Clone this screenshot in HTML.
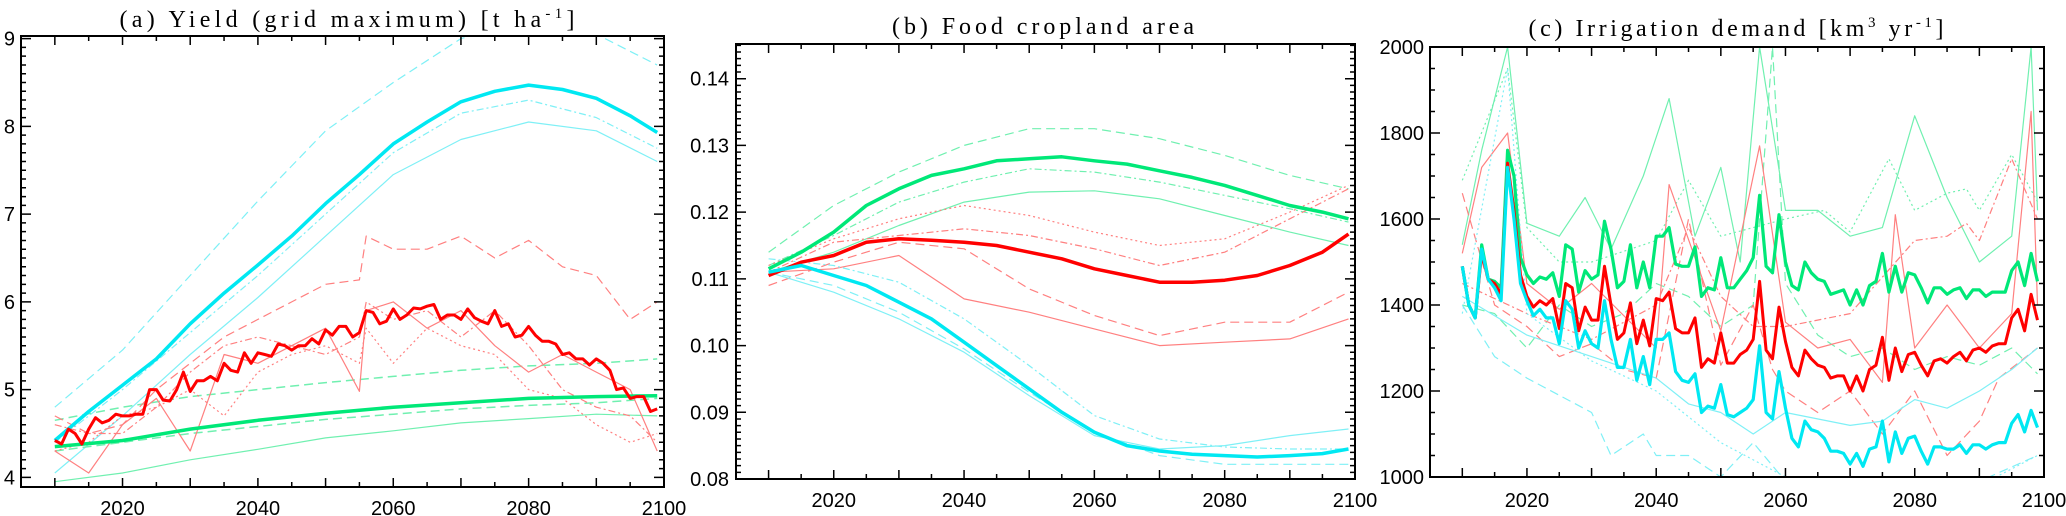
<!DOCTYPE html>
<html><head><meta charset="utf-8"><style>
html,body{margin:0;padding:0;background:#fff;}
svg{display:block;}
text{font-family:"Liberation Sans",sans-serif;fill:#000;}
.title{font-family:"Liberation Serif",serif;font-size:24px;}
</style></head>
<body>
<svg id="chart" width="2066" height="516" viewBox="0 0 2066 516" xmlns="http://www.w3.org/2000/svg"></svg>
<script>
// ---------- Panel (a) data: Yield ----------
const yearsA5 = [2010,2015,2020,2025,2030,2035,2040,2045,2050,2055,2060,2065,2070,2075,2080,2085,2090,2095,2099];
const yieldCyanMean = [4.42,4.75,5.05,5.35,5.75,6.1,6.42,6.75,7.12,7.45,7.8,8.05,8.28,8.4,8.47,8.42,8.32,8.12,7.93];
const yearsA10 = [2010,2020,2030,2040,2050,2060,2070,2080,2090,2099];
const yieldCyanHigh = [4.8,5.45,6.3,7.15,7.95,8.5,9.0,9.2,9.05,8.7];
const yieldCyanLow = [4.05,4.7,5.4,6.05,6.75,7.45,7.85,8.05,7.95,7.6];
const yieldCyanMid = [4.4,5.0,5.65,6.3,7.0,7.7,8.15,8.3,8.1,7.75];
const yearsAnnual = Array.from({length:90},(_,i)=>2010+i);
const yieldRedMean = [4.42,4.38,4.55,4.5,4.38,4.55,4.68,4.62,4.65,4.72,4.7,4.7,4.72,4.72,5.0,5.0,4.88,4.87,5.0,5.2,4.98,5.1,5.1,5.15,5.1,5.3,5.22,5.2,5.42,5.3,5.42,5.4,5.38,5.52,5.5,5.45,5.5,5.5,5.58,5.52,5.68,5.62,5.72,5.72,5.6,5.65,5.9,5.88,5.75,5.78,5.92,5.8,5.85,5.93,5.92,5.95,5.97,5.8,5.85,5.85,5.8,5.92,5.82,5.78,5.75,5.9,5.72,5.75,5.6,5.62,5.72,5.62,5.55,5.55,5.52,5.4,5.42,5.35,5.35,5.28,5.35,5.3,5.22,5.0,5.02,4.9,4.92,4.92,4.75,4.78];
const yearsA5b = [2010,2015,2020,2025,2030,2035,2040,2045,2050,2055,2056,2060,2065,2070,2075,2080,2085,2090,2095,2099];
const yieldRedHigh = [4.7,4.5,4.6,5.0,5.3,5.6,5.8,6.0,6.2,6.25,6.75,6.6,6.6,6.75,6.5,6.7,6.4,6.3,5.8,6.0];
const yieldRedSolid = [4.3,4.05,4.6,4.9,4.3,5.4,5.3,5.5,5.7,4.98,5.9,6.0,5.7,5.9,5.5,5.2,5.4,5.2,5.0,4.3];
const yieldRedDotted = [4.3,4.4,4.7,4.8,5.0,4.7,5.2,5.4,5.5,5.3,5.7,5.3,5.7,5.5,5.4,5.0,4.9,4.6,4.4,4.5];
const yieldRedDashDot = [4.6,4.5,4.5,4.8,5.2,5.5,5.6,5.5,5.4,5.6,6.0,5.8,5.9,5.6,5.9,5.5,5.0,4.8,4.7,4.4];
const yieldGreenMean = [4.35,4.42,4.55,4.65,4.73,4.8,4.85,4.9,4.92,4.93];
const yieldGreenHigh = [4.65,4.8,4.92,5.0,5.08,5.15,5.22,5.27,5.3,5.35];
const yieldGreenMid = [4.3,4.4,4.5,4.58,4.66,4.72,4.78,4.82,4.85,4.9];
const yieldGreenLow = [3.95,4.05,4.2,4.32,4.45,4.53,4.62,4.67,4.72,4.7];

// ---------- Panel (b) data: cropland area ----------
const areaGreenMean = [0.1115,0.114,0.117,0.121,0.1235,0.1255,0.1265,0.1277,0.128,0.1283,0.1277,0.1272,0.1262,0.1252,0.124,0.1225,0.121,0.12,0.119];
const areaRedMean = [0.1105,0.1125,0.1135,0.1155,0.116,0.1158,0.1155,0.115,0.114,0.113,0.1115,0.1105,0.1095,0.1095,0.1098,0.1105,0.112,0.114,0.1167];
const areaCyanMean = [0.111,0.112,0.1105,0.109,0.1065,0.104,0.1005,0.097,0.0935,0.09,0.087,0.085,0.0842,0.0837,0.0835,0.0833,0.0835,0.0838,0.0845];
const areaGreenHigh = [0.114,0.121,0.126,0.13,0.1325,0.1325,0.131,0.1285,0.1255,0.1235];
const areaGreenMid = [0.112,0.1165,0.1215,0.1245,0.1265,0.126,0.1245,0.1225,0.1205,0.1185];
const areaGreenLow = [0.111,0.114,0.118,0.1215,0.123,0.1232,0.122,0.1195,0.117,0.115];
const areaRedSolid = [0.111,0.1115,0.1135,0.107,0.105,0.1025,0.1,0.1005,0.101,0.104];
const areaRedDashed = [0.109,0.1125,0.1155,0.1145,0.1085,0.1045,0.1015,0.1035,0.1035,0.108];
const areaRedDotted = [0.112,0.116,0.119,0.121,0.1195,0.117,0.115,0.116,0.12,0.124];
const areaRedDashDot = [0.111,0.1155,0.1165,0.1175,0.1165,0.1145,0.112,0.114,0.119,0.1235];
const areaCyanHigh = [0.113,0.112,0.1095,0.104,0.097,0.0895,0.086,0.0848,0.0845,0.0845];
const areaCyanLow = [0.111,0.108,0.104,0.099,0.0925,0.0865,0.0845,0.085,0.0865,0.0875];
const areaCyanDashed = [0.111,0.109,0.105,0.0995,0.093,0.087,0.0835,0.0822,0.0822,0.0822];

// ---------- Panel (c) data: irrigation ----------
const irrGreenMean = [1490,1400,1370,1540,1460,1455,1440,1760,1700,1510,1470,1450,1465,1460,1475,1420,1540,1530,1430,1480,1460,1470,1595,1530,1440,1455,1540,1440,1500,1440,1560,1560,1580,1495,1490,1490,1535,1420,1440,1435,1510,1440,1440,1460,1480,1510,1655,1490,1475,1610,1500,1445,1435,1500,1475,1460,1455,1425,1430,1435,1400,1435,1400,1445,1455,1520,1430,1490,1430,1475,1470,1440,1405,1440,1440,1425,1435,1440,1415,1435,1435,1420,1430,1430,1430,1480,1500,1445,1520,1455];
const irrRedMean = [1490,1400,1370,1520,1460,1450,1425,1730,1620,1470,1420,1395,1410,1400,1415,1345,1450,1440,1340,1395,1365,1365,1490,1400,1320,1335,1405,1310,1365,1305,1415,1410,1430,1345,1335,1335,1370,1255,1275,1265,1335,1265,1265,1285,1295,1320,1455,1295,1275,1395,1315,1255,1235,1295,1275,1260,1255,1230,1235,1235,1200,1235,1200,1250,1260,1325,1225,1300,1245,1285,1290,1260,1235,1270,1275,1265,1280,1290,1270,1295,1300,1290,1305,1310,1310,1370,1390,1340,1425,1365];
const irrCyanMean = [1490,1400,1370,1530,1460,1440,1410,1720,1600,1450,1410,1375,1390,1370,1370,1310,1410,1390,1300,1340,1310,1300,1410,1320,1255,1255,1320,1225,1280,1215,1320,1320,1335,1245,1225,1220,1240,1150,1165,1160,1215,1145,1140,1150,1160,1180,1305,1150,1135,1245,1160,1090,1070,1130,1110,1105,1090,1060,1060,1055,1030,1055,1025,1065,1070,1130,1035,1105,1055,1090,1095,1060,1030,1070,1070,1065,1065,1075,1055,1075,1075,1065,1075,1080,1080,1125,1145,1105,1155,1115];
const yrsGS = [2010,2013,2017,2020,2025,2029,2033,2038,2042,2046,2050,2053,2056,2060,2065,2070,2075,2080,2085,2090,2095,2098,2099];
const irrGreenSolid = [1540,1760,2000,1590,1560,1650,1530,1700,1880,1560,1720,1500,2000,1620,1620,1560,1580,1840,1650,1500,1560,2000,1620];
const yrsGD = [2010,2015,2020,2025,2030,2035,2040,2045,2050,2055,2058,2060,2065,2070,2075,2080,2085,2090,2095,2099];
const irrGreenDashed = [1400,1380,1300,1400,1350,1380,1450,1420,1350,1400,2000,1450,1330,1280,1300,1250,1280,1260,1300,1240];
const yrsGT = [2010,2017,2020,2025,2030,2040,2045,2050,2060,2066,2070,2076,2080,2085,2088,2090,2095,2099];
const irrGreenDotted = [1690,1950,1580,1500,1500,1550,1690,1560,1600,1620,1570,1740,1620,1660,1670,1620,1750,1640];
const yrsRS = [2010,2013,2017,2020,2025,2030,2040,2042,2050,2056,2060,2065,2070,2075,2077,2080,2085,2090,2095,2098,2099];
const irrRedSolid = [1520,1720,1800,1450,1390,1450,1300,1680,1340,1770,1360,1300,1320,1220,1610,1300,1400,1300,1380,1850,1400];
const yrsRD = [2010,2015,2020,2025,2030,2035,2040,2045,2050,2055,2058,2060,2065,2070,2075,2080,2085,2090,2093,2099];
const irrRedDashed = [1660,1400,1350,1280,1310,1250,1230,1600,1260,1400,1250,1200,1150,1200,1100,1200,1050,1130,1230,1300];
const yrsRT = [2010,2020,2030,2040,2045,2050,2055,2060,2070,2080,2085,2088,2090,2095,2099];
const irrRedDotted = [1450,1380,1320,1400,1580,1420,1350,1350,1380,1550,1560,1590,1550,1740,1600];
const yrsCD = [2010,2015,2020,2025,2030,2033,2038,2040,2045,2050,2055,2060,2065,2070,2080,2090,2099];
const irrCyanDashed = [1400,1280,1230,1190,1150,1050,1100,1050,1050,1000,1080,990,980,1000,970,990,1050];
const yrsCS = [2010,2020,2030,2040,2045,2050,2055,2060,2070,2075,2080,2085,2090,2095,2099];
const irrCyanSolid = [1420,1330,1280,1230,1170,1150,1100,1150,1120,1130,1180,1160,1200,1250,1300];
const yrsCT = [2010,2017,2020,2030,2040,2050,2060,2070,2080,2090,2099];
const irrCyanDotted = [1380,1950,1380,1270,1200,1080,1000,990,1000,980,1050];

const NS = 'http://www.w3.org/2000/svg';
const svg = document.getElementById('chart');
function mk(tag, attrs, parent){ const e=document.createElementNS(NS,tag); for(const k in attrs) e.setAttribute(k,attrs[k]); (parent||svg).appendChild(e); return e; }

const CYAN='#00e8f2', RED='#ff0000', GREEN='#00e878';
const CYAN_T='#7ff0f6', RED_T='#ff8080', GREEN_T='#70f0b0';
const DASH={solid:'',dash:'9,5',dot:'2,3',dashdot:'7,3,2,3'};

function panel(cfg){
  const g = mk('g',{});
  
  
  const X = y => cfg.x0 + (y - 2005)/(2100-2005)*(cfg.x1-cfg.x0);
  const Y = v => cfg.y1 - (v - cfg.vmin)/(cfg.vmax-cfg.vmin)*(cfg.y1-cfg.y0);
  const cid = 'clip-'+cfg.id;
  const cp = mk('clipPath',{id:cid},g);
  mk('rect',{x:cfg.x0,y:cfg.y0,width:cfg.x1-cfg.x0,height:cfg.y1-cfg.y0},cp);
  const lines = mk('g',{'clip-path':'url(#'+cid+')'},g);
  
  
  cfg.series.forEach(s=>{
    const d = s.yrs.map((yr,i)=>(i?'L':'M')+X(yr).toFixed(1)+','+Y(s.vals[i]).toFixed(1)).join('');
    const p = mk('path',{d:d,fill:'none',stroke:s.c,'stroke-width':s.w,'stroke-linejoin':'round'},lines);
    if(DASH[s.st]) p.setAttribute('stroke-dasharray',DASH[s.st]);
    
    
  });
  // frame
  const fr = mk('rect',{x:cfg.x0,y:cfg.y0,width:cfg.x1-cfg.x0,height:cfg.y1-cfg.y0,fill:'none',stroke:'#000','stroke-width':2},g);
  
  
  // x ticks
  let td='';
  for(let yr=2005; yr<=2100; yr+=5){
    const x=X(yr); const L = (yr%10===0)?9:5;
    td+=`M${x},${cfg.y1}v${-L}M${x},${cfg.y0}v${L}`;
  }
  // y ticks
  for(let k=0;;k++){
    const v = cfg.vmin0 + k*cfg.minor; if(v>cfg.vmax+1e-9) break;
    if(v<cfg.vmin-1e-9) continue;
    const isMaj = Math.abs(Math.round((v-cfg.vmin0)/cfg.major)*cfg.major-(v-cfg.vmin0))<cfg.minor*0.01;
    const L = isMaj?10:5; const y=Y(v);
    td+=`M${cfg.x0},${y}h${L}M${cfg.x1},${y}h${-L}`;
  }
  const tk = mk('path',{d:td,stroke:'#000','stroke-width':1.5,fill:'none'},g);
  
  
  // x labels
  [2020,2040,2060,2080,2100].forEach(yr=>{
    const t = mk('text',{x:X(yr),y:cfg.xlabY,'text-anchor':'middle','font-size':20},g);
    t.textContent=yr;
    
    
  });
  cfg.yLabels.forEach((lab,i)=>{
    const v = cfg.yLabelVals[i];
    const t = mk('text',{x:cfg.ylabX,y:Y(v)+7,'text-anchor':'end','font-size':20},g);
    t.textContent=lab;
    
    
  });
  const tt = mk('text',{x:cfg.tx,y:cfg.ty,'text-anchor':'middle',class:'title',textLength:cfg.tlen,lengthAdjust:'spacing'},g);
  tt.innerHTML = cfg.title;
  
  
}

panel({id:'a',name:'panel-yield',x0:21,x1:664,y0:36,y1:487,vmin:3.89,vmax:9.03,vmin0:4,major:1,minor:0.1,
  xlabY:515,ylabX:15,yLabels:['4','5','6','7','8','9'],yLabelVals:[4,5,6,7,8,9],
  tx:347,ty:27,tlen:455,title:'(a) Yield (grid maximum) [t ha<tspan dy="-9" font-size="15">-1</tspan><tspan dy="9">]</tspan>',
  series:[
    {n:'yield-cyan-high',yrs:yearsA10,vals:yieldCyanHigh,c:CYAN_T,w:1.2,st:'dash'},
    {n:'yield-cyan-mid',yrs:yearsA10,vals:yieldCyanMid,c:CYAN_T,w:1.2,st:'dashdot'},
    {n:'yield-cyan-low',yrs:yearsA10,vals:yieldCyanLow,c:CYAN_T,w:1.2,st:'solid'},
    {n:'yield-green-high',yrs:yearsA10,vals:yieldGreenHigh,c:GREEN_T,w:1.5,st:'dash'},
    {n:'yield-green-mid',yrs:yearsA10,vals:yieldGreenMid,c:GREEN_T,w:1.5,st:'dash'},
    {n:'yield-green-low',yrs:yearsA10,vals:yieldGreenLow,c:GREEN_T,w:1.2,st:'solid'},
    {n:'yield-red-high',yrs:yearsA5b,vals:yieldRedHigh,c:RED_T,w:1.2,st:'dash'},
    {n:'yield-red-solid',yrs:yearsA5b,vals:yieldRedSolid,c:RED_T,w:1.2,st:'solid'},
    {n:'yield-red-dotted',yrs:yearsA5b,vals:yieldRedDotted,c:RED_T,w:1.2,st:'dot'},
    {n:'yield-red-dashdot',yrs:yearsA5b,vals:yieldRedDashDot,c:RED_T,w:1.2,st:'dashdot'},
    {n:'yield-cyan-mean',yrs:yearsA5,vals:yieldCyanMean,c:CYAN,w:3.5,st:'solid'},
    {n:'yield-green-mean',yrs:yearsA10,vals:yieldGreenMean,c:GREEN,w:3.5,st:'solid'},
    {n:'yield-red-mean',yrs:yearsAnnual,vals:yieldRedMean,c:RED,w:3,st:'solid'}
  ]});

panel({id:'b',name:'panel-cropland-area',x0:736,x1:1355,y0:44,y1:479,vmin:0.08,vmax:0.1452,vmin0:0.08,major:0.01,minor:0.001,
  xlabY:507,ylabX:729,yLabels:['0.08','0.09','0.10','0.11','0.12','0.13','0.14'],yLabelVals:[0.08,0.09,0.10,0.11,0.12,0.13,0.14],
  tx:1043,ty:34,tlen:302,title:'(b) Food cropland area',
  series:[
    {n:'area-green-high',yrs:yearsA10,vals:areaGreenHigh,c:GREEN_T,w:1.2,st:'dash'},
    {n:'area-green-mid',yrs:yearsA10,vals:areaGreenMid,c:GREEN_T,w:1.2,st:'dashdot'},
    {n:'area-green-low',yrs:yearsA10,vals:areaGreenLow,c:GREEN_T,w:1.2,st:'solid'},
    {n:'area-red-solid',yrs:yearsA10,vals:areaRedSolid,c:RED_T,w:1.2,st:'solid'},
    {n:'area-red-dashed',yrs:yearsA10,vals:areaRedDashed,c:RED_T,w:1.2,st:'dash'},
    {n:'area-red-dotted',yrs:yearsA10,vals:areaRedDotted,c:RED_T,w:1.2,st:'dot'},
    {n:'area-red-dashdot',yrs:yearsA10,vals:areaRedDashDot,c:RED_T,w:1.2,st:'dashdot'},
    {n:'area-cyan-high',yrs:yearsA10,vals:areaCyanHigh,c:CYAN_T,w:1.2,st:'dashdot'},
    {n:'area-cyan-low',yrs:yearsA10,vals:areaCyanLow,c:CYAN_T,w:1.2,st:'solid'},
    {n:'area-cyan-dashed',yrs:yearsA10,vals:areaCyanDashed,c:CYAN_T,w:1.2,st:'dash'},
    {n:'area-green-mean',yrs:yearsA5,vals:areaGreenMean,c:GREEN,w:3.5,st:'solid'},
    {n:'area-red-mean',yrs:yearsA5,vals:areaRedMean,c:RED,w:3.5,st:'solid'},
    {n:'area-cyan-mean',yrs:yearsA5,vals:areaCyanMean,c:CYAN,w:3.5,st:'solid'}
  ]});

panel({id:'c',name:'panel-irrigation-demand',x0:1430,x1:2044,y0:47,y1:477,vmin:1000,vmax:2000,vmin0:1000,major:200,minor:50,
  xlabY:507,ylabX:1424,yLabels:['1000','1200','1400','1600','1800','2000'],yLabelVals:[1000,1200,1400,1600,1800,2000],
  tx:1736,ty:36,tlen:415,title:'(c) Irrigation demand [km<tspan dy="-9" font-size="15">3</tspan><tspan dy="9"> yr</tspan><tspan dy="-9" font-size="15">-1</tspan><tspan dy="9">]</tspan>',
  series:[
    {n:'irr-green-solid',yrs:yrsGS,vals:irrGreenSolid,c:GREEN_T,w:1.2,st:'solid'},
    {n:'irr-green-dashed',yrs:yrsGD,vals:irrGreenDashed,c:GREEN_T,w:1.2,st:'dash'},
    {n:'irr-green-dotted',yrs:yrsGT,vals:irrGreenDotted,c:GREEN_T,w:1.2,st:'dot'},
    {n:'irr-red-solid',yrs:yrsRS,vals:irrRedSolid,c:RED_T,w:1.2,st:'solid'},
    {n:'irr-red-dashed',yrs:yrsRD,vals:irrRedDashed,c:RED_T,w:1.2,st:'dash'},
    {n:'irr-red-dotted',yrs:yrsRT,vals:irrRedDotted,c:RED_T,w:1.2,st:'dashdot'},
    {n:'irr-cyan-dashed',yrs:yrsCD,vals:irrCyanDashed,c:CYAN_T,w:1.2,st:'dash'},
    {n:'irr-cyan-solid',yrs:yrsCS,vals:irrCyanSolid,c:CYAN_T,w:1.2,st:'solid'},
    {n:'irr-cyan-dotted',yrs:yrsCT,vals:irrCyanDotted,c:CYAN_T,w:1.2,st:'dot'},
    {n:'irr-green-mean',yrs:yearsAnnual,vals:irrGreenMean,c:GREEN,w:3.2,st:'solid'},
    {n:'irr-red-mean',yrs:yearsAnnual,vals:irrRedMean,c:RED,w:3,st:'solid'},
    {n:'irr-cyan-mean',yrs:yearsAnnual,vals:irrCyanMean,c:CYAN,w:3.2,st:'solid'}
  ]});
</script>
</body></html>
